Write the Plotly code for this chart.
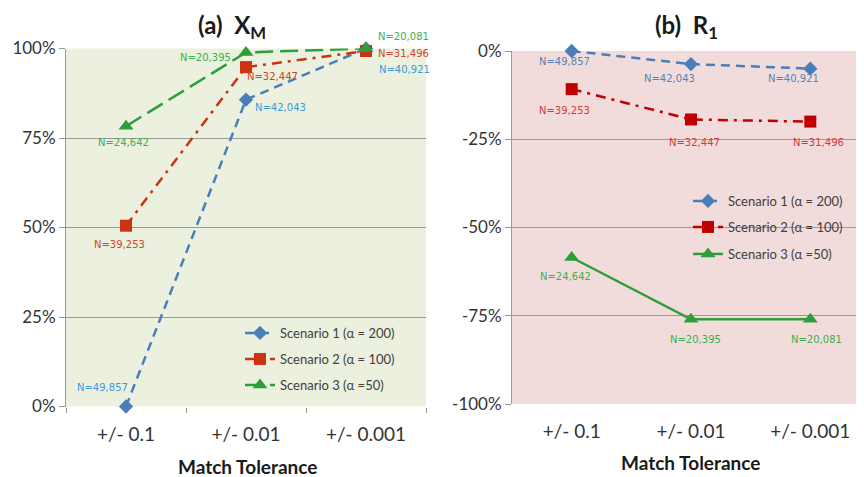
import plotly.graph_objects as go

categories = ["+/- 0.1", "+/- 0.01", "+/- 0.001"]
series_names = ["Scenario 1 (α = 200)", "Scenario 2 (α = 100)", "Scenario 3 (α =50)"]

# Panel (a) X_M  (percent)
xm_s1 = [0, 85.7, 100]
xm_s2 = [50.5, 94.8, 99.3]
xm_s3 = [78.3, 98.9, 100]
xm_n1 = ["N=49,857", "N=42,043", "N=40,921"]
xm_n2 = ["N=39,253", "N=32,447", "N=31,496"]
xm_n3 = ["N=24,642", "N=20,395", "N=20,081"]

# Panel (b) R_1 (percent)
r1_s1 = [0, -3.7, -5]
r1_s2 = [-10.8, -19.4, -20]
r1_s3 = [-58.5, -76, -76]
r1_n1 = ["N=49,857", "N=42,043", "N=40,921"]
r1_n2 = ["N=39,253", "N=32,447", "N=31,496"]
r1_n3 = ["N=24,642", "N=20,395", "N=20,081"]

yticks_a = [0, 25, 50, 75, 100]
yticks_b = [0, -25, -50, -75, -100]

# ---- styling ----
BLUE = "#4A7EBB"
RED_A = "#CC3311"
RED_B = "#C00000"
GREEN = "#2E9E3A"
LBL_FONT = "DejaVu Sans"
GRID = "#9A9A9A"

# label offsets in pixels (dx right, dy down) relative to each point
OFFS_A = [[(-24, -19), (34, 8), (38, 21)],
          [(-7, 19), (26, 9), (37, 2)],
          [(-3, 16), (-41, 5), (37, -12)]]
OFFS_B = [[(-7, 11), (-21, 14), (-17, 10)],
          [(-7, 21), (4, 23), (8, 21)],
          [(-6, 19), (5, 20), (6, 20)]]

# page body adds an 8px margin; figure is sized so it fills the window
OFF = 8
W, H = 864 - OFF, 477 - OFF
def fx(px):
    return (px - OFF) / W
def fy(py):
    return 1 - (py - OFF) / H

fig = go.Figure()
annotations = []

def add(x, y, name, color, dash, symbol, size, text, offs, tcolor, xa, ya, legend):
    fig.add_trace(go.Scatter(
        x=x, y=y, name=name, mode="lines+markers",
        line=dict(color=color, width=2.5, dash=dash),
        marker=dict(symbol=symbol, size=size, color=color),
        xaxis=xa, yaxis=ya, legend=legend, cliponaxis=False,
    ))
    for xi, yi, t, (dx, dy) in zip(x, y, text, offs):
        annotations.append(dict(
            text=t, x=xi, y=yi, xref=xa, yref=ya, xshift=dx, yshift=-dy,
            xanchor="center", yanchor="middle", showarrow=False,
            font=dict(family=LBL_FONT, size=10, color=tcolor)))

add(categories, xm_s1, series_names[0], BLUE, "9px,6px", "diamond", 11, xm_n1,
    OFFS_A[0], "#3A9AD9", "x", "y", "legend")
add(categories, xm_s2, series_names[1], RED_A, "10px,6px,3px,6px", "square", 12, xm_n2,
    OFFS_A[1], "#D2442A", "x", "y", "legend2")
add(categories, xm_s3, series_names[2], GREEN, "18px,7px", "triangle-up", 13, xm_n3,
    OFFS_A[2], "#3CB04A", "x", "y", "legend3")

add(categories, r1_s1, series_names[0], BLUE, "9px,6px", "diamond", 11, r1_n1,
    OFFS_B[0], "#5B7FB5", "x2", "y2", "legend4")
add(categories, r1_s2, series_names[1], RED_B, "10px,6px,3px,6px", "square", 12, r1_n2,
    OFFS_B[1], "#D23A3A", "x2", "y2", "legend5")
add(categories, r1_s3, series_names[2], GREEN, "solid", "triangle-up", 13, r1_n3,
    OFFS_B[2], "#3CB04A", "x2", "y2", "legend6")

XTICKF = dict(family="Lato", size=19, color="#333333")
YTICKF = dict(family="Lato", size=17, color="#333333")

def legend_at(px, py):
    return dict(x=fx(px), y=fy(py), xanchor="left", yanchor="middle",
                bgcolor="rgba(0,0,0,0)", font=dict(family="Lato", size=13, color="#404040"),
                itemwidth=30, tracegroupgap=0, borderwidth=0)

xcommon = dict(type="category", categoryorder="array", categoryarray=categories,
               range=[-0.5, 2.5], showgrid=False, tickson="boundaries",
               ticks="outside", ticklen=5, tickcolor=GRID, tickfont=XTICKF,
               ticklabelstandoff=14,
               showline=False, zeroline=False, automargin=False)

ycommon = dict(showgrid=True, gridcolor=GRID, gridwidth=1, zeroline=False,
               showline=True, linecolor=GRID, linewidth=1, ticks="outside", ticklen=6,
               tickcolor=GRID, tickfont=YTICKF, automargin=False)

def ann(text, px, py, size, yanchor="middle"):
    return dict(text=text, x=fx(px), y=fy(py), xref="paper", yref="paper",
                xanchor="center", yanchor=yanchor, showarrow=False,
                font=dict(family="Lato", size=size, color="#1a1a1a"))

annotations += [
    ann("<b>(a)  X<sub>M</sub></b>", 232, 8, 24, "top"),
    ann("<b>(b)  R<sub>1</sub></b>", 686, 8, 24, "top"),
    ann("<b>Match Tolerance</b>", 247, 466, 19),
    ann("<b>Match Tolerance</b>", 690, 462, 19),
]

fig.update_layout(
    template="none",
    width=W, height=H, margin=dict(l=0, r=0, t=0, b=0, pad=0, autoexpand=False),
    paper_bgcolor="white", plot_bgcolor="white", showlegend=True,
    xaxis=dict(domain=[fx(66), fx(426)], anchor="y", **xcommon),
    xaxis2=dict(domain=[fx(512), 1.0], anchor="y2",
                **{**xcommon, "range": [-0.5, 2.45], "ticks": ""}),
    yaxis=dict(domain=[fy(406.5), fy(48.5)], anchor="x", range=[0, 100],
               tickvals=yticks_a, ticktext=[f"{v}%" for v in yticks_a], **ycommon),
    yaxis2=dict(domain=[fy(404), fy(51)], anchor="x2", range=[-100, 0],
                tickvals=yticks_b, ticktext=[f"{v}%" for v in yticks_b], **ycommon),
    shapes=[
        dict(type="rect", xref="x domain", yref="y domain", x0=0, x1=1, y0=0, y1=1,
             fillcolor="#EBF1DE", line=dict(width=0), layer="below"),
        dict(type="rect", xref="x2 domain", yref="y2 domain", x0=0, x1=1, y0=0, y1=1,
             fillcolor="#F2DCDB", line=dict(width=0), layer="below"),
    ],
    legend=legend_at(240, 333),
    legend2=legend_at(240, 359),
    legend3=legend_at(240, 385),
    legend4=legend_at(688, 201),
    legend5=legend_at(688, 227),
    legend6=legend_at(688, 254),
    annotations=annotations,
)

fig.write_html("out.html")
